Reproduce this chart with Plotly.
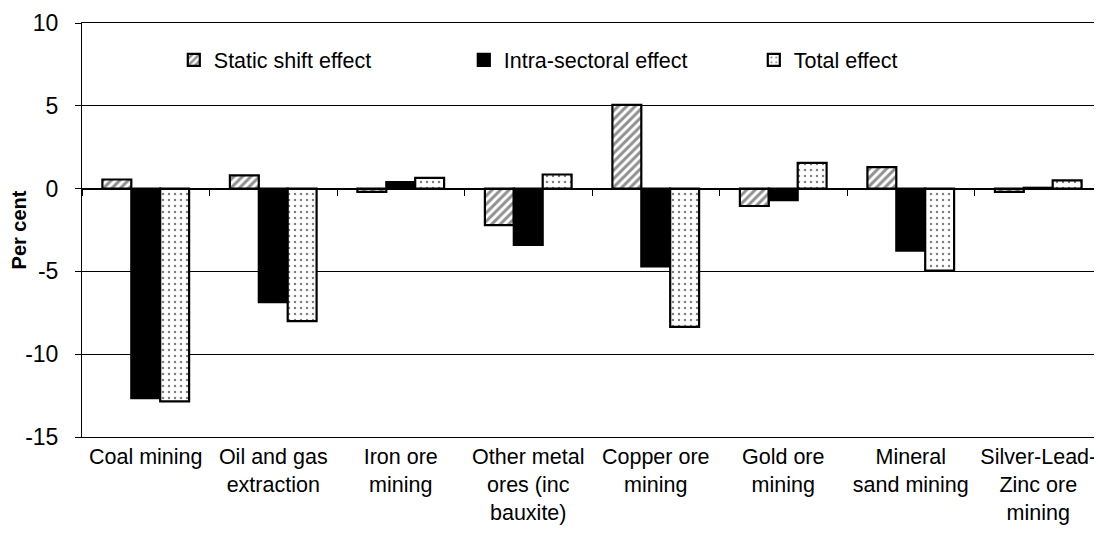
import plotly.graph_objects as go

# categories (x axis)
categories = [
    "Coal mining", "Oil and gas<br>extraction", "Iron ore<br>mining",
    "Other metal<br>ores (inc<br>bauxite)", "Copper ore<br>mining", "Gold ore<br>mining",
    "Mineral<br>sand mining", "Silver-Lead-<br>Zinc ore<br>mining",
]

# series values (per cent)
static_shift = [0.55, 0.8, -0.2, -2.2, 5.05, -1.05, 1.3, -0.2]
intra_sectoral = [-12.65, -6.85, 0.4, -3.4, -4.7, -0.7, -3.75, 0.05]
total_effect = [-12.85, -8.0, 0.65, 0.85, -8.35, 1.55, -4.95, 0.5]

y_ticks = [-15, -10, -5, 0, 5, 10]
y_tick_labels = ["-15", "-10", "-5", "0", "5", "10"]

FONT = "Liberation Sans, Arial, sans-serif"
y_min, y_max = min(y_ticks), max(y_ticks)

fig = go.Figure()

fig.add_trace(go.Bar(
    name="Static shift effect", x=categories, y=static_shift,
    marker=dict(color="white", line=dict(color="black", width=2.2),
                pattern=dict(shape="/", fgcolor="#222222", bgcolor="white", size=6, solidity=0.5)),
))
fig.add_trace(go.Bar(
    name="Intra-sectoral effect", x=categories, y=intra_sectoral,
    marker=dict(color="black", line=dict(color="black", width=2.2)),
))
fig.add_trace(go.Bar(
    name="Total effect", x=categories, y=total_effect,
    marker=dict(color="white", line=dict(color="black", width=2.2),
                pattern=dict(shape=".", fgcolor="black", bgcolor="white", size=6, solidity=0.14)),
))

# invisible trace so the zero-line category axis (with boundary ticks) is drawn
fig.add_trace(go.Scatter(
    x=categories, y=[None] * len(categories), xaxis="x2",
    showlegend=False, hoverinfo="skip", mode="lines",
))

# page body has an 8px margin, so the figure is 8px smaller than the window
fig.update_layout(
    width=1094, height=534,
    margin=dict(l=74, r=0, t=15, b=105, autoexpand=False),
    plot_bgcolor="white", paper_bgcolor="white",
    font=dict(family=FONT, color="black", size=21.5),
    barmode="group", bargap=0.32, bargroupgap=0,
    showlegend=True,
    legend=dict(
        orientation="h", x=0.09, xanchor="left", y=0.911, yanchor="middle",
        bgcolor="rgba(0,0,0,0)", font=dict(size=21.5, family=FONT),
        entrywidth=245, itemwidth=30, traceorder="normal",
    ),
    xaxis=dict(
        automargin=False,
        showline=True, linecolor="black", linewidth=1, mirror=True,
        ticks="", showgrid=False, zeroline=False,
        tickfont=dict(size=21.5, family=FONT),
    ),
    xaxis2=dict(
        overlaying="x", matches="x", anchor="free", automargin=False,
        position=(0 - y_min) / (y_max - y_min),
        showline=True, linecolor="black", linewidth=1.2,
        ticks="outside", ticklen=6, tickcolor="black", tickson="boundaries",
        showticklabels=False, showgrid=False, zeroline=False,
    ),
    yaxis=dict(
        automargin=False,
        range=[y_min, y_max], tickvals=y_ticks, ticktext=y_tick_labels,
        showline=True, linecolor="black", linewidth=1,
        ticks="outside", ticklen=6, tickcolor="black",
        showgrid=True, gridcolor="black", gridwidth=1,
        zeroline=True, zerolinecolor="black", zerolinewidth=1,
        tickfont=dict(size=23, family=FONT), ticklabelstandoff=12,
        title=dict(text="<b>Per cent</b>", font=dict(size=20, family=FONT), standoff=4),
    ),
)

fig.write_html("out.html")
